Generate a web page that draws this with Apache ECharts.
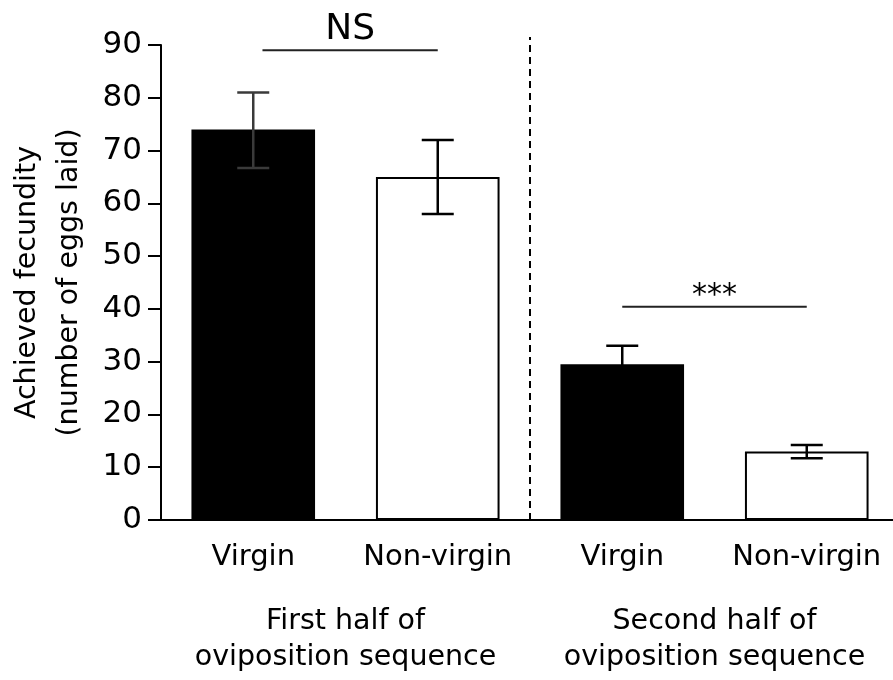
<!DOCTYPE html>
<html><head><meta charset="utf-8">
<script src="https://cdn.jsdelivr.net/npm/echarts@6/dist/echarts.min.js"></script>
<style>html,body{margin:0;padding:0;background:#fff}#c{width:893px;height:680px}</style>
</head><body><div id="c"></div>
<script>
const categories = ['Virgin', 'Non-virgin', 'Virgin', 'Non-virgin'];
const groups = ['First half of\noviposition sequence', 'Second half of\noviposition sequence'];
const means = [74, 65, 29.5, 13];
const errLow = [66.7, 58, 26, 11.7];
const errHigh = [81, 72, 33, 14.2];
const barColors = ['#000000', '#ffffff', '#000000', '#ffffff'];
const errColors = ['#3a3a3a', '#000000', '#000000', '#000000'];
// significance brackets: [startCat, endCat, yValue, label]
const brackets = [[0.05, 1.0, 89, 'NS'], [2.0, 3.0, 40.4, '***']];
const divider = [1.5, 0, 91.5];
const yTicks = { min: 0, max: 90, interval: 10 };

const FONT = 'DejaVu Sans, sans-serif';
const chart = echarts.init(document.getElementById('c'));

chart.setOption({
  animation: false,
  backgroundColor: '#fff',
  grid: { left: 161, top: 45, height: 475, width: 738, containLabel: false, outerBoundsMode: 'none' },
  xAxis: [{
    type: 'category', data: categories, boundaryGap: true,
    axisLine: { lineStyle: { color: '#000', width: 2 } },
    axisTick: { alignWithLabel: true, length: 13, lineStyle: { color: '#000', width: 2 } },
    axisLabel: { color: '#000', fontSize: 29, fontFamily: FONT, margin: 23, interval: 0, hideOverlap: false }
  }, {
    type: 'category', data: groups, position: 'bottom', boundaryGap: true,
    axisLine: { show: false }, axisTick: { show: false },
    axisLabel: { color: '#000', fontSize: 28.5, fontFamily: FONT, margin: 84, lineHeight: 36, interval: 0, hideOverlap: false }
  }],
  yAxis: {
    type: 'value', min: yTicks.min, max: yTicks.max, interval: yTicks.interval,
    name: 'Achieved fecundity\n(number of eggs laid)', nameLocation: 'middle', nameGap: 70,
    nameTextStyle: { color: '#000', fontSize: 28.5, fontFamily: FONT, lineHeight: 42 },
    axisLine: { show: true, lineStyle: { color: '#000', width: 2 } },
    axisTick: { show: true, length: 13, lineStyle: { color: '#000', width: 2 } },
    axisLabel: { color: '#000', fontSize: 31, fontFamily: FONT, margin: 19 },
    splitLine: { show: false }
  },
  series: [{
    type: 'bar', barWidth: '67%',
    data: means.map((v, i) => ({ value: v, itemStyle: { color: barColors[i], borderColor: '#000', borderWidth: 2 } })),
    z: 2
  }, {
    type: 'custom', z: 5,
    data: means.map((v, i) => [i, errLow[i], errHigh[i]]),
    renderItem: function (params, api) {
      const i = api.value(0);
      const lo = api.coord([i, api.value(1)]);
      const hi = api.coord([i, api.value(2)]);
      const hw = 16;
      const style = { stroke: errColors[i], lineWidth: 2.5, fill: null };
      return { type: 'group', children: [
        { type: 'line', shape: { x1: lo[0], y1: lo[1], x2: hi[0], y2: hi[1] }, style },
        { type: 'line', shape: { x1: hi[0] - hw, y1: hi[1], x2: hi[0] + hw, y2: hi[1] }, style },
        { type: 'line', shape: { x1: lo[0] - hw, y1: lo[1], x2: lo[0] + hw, y2: lo[1] }, style }
      ]};
    }
  }, {
    type: 'custom', z: 5,
    data: brackets,
    renderItem: function (params, api) {
      const band = api.size([1, 0])[0];
      const a = api.coord([0, api.value(2)]);
      const x1 = a[0] + api.value(0) * band;
      const x2 = a[0] + api.value(1) * band;
      const lbl = brackets[params.dataIndex][3];
      const isNS = lbl === 'NS';
      return { type: 'group', children: [
        { type: 'line', shape: { x1, y1: a[1], x2, y2: a[1] }, style: { stroke: '#222', lineWidth: 2 } },
        { type: 'text', style: { text: lbl, x: (x1 + x2) / 2, y: a[1] - (isNS ? 3 : -4), align: 'center', verticalAlign: 'bottom',
          fill: '#000', fontSize: isNS ? 36 : 30, fontFamily: FONT } }
      ]};
    }
  }, {
    type: 'custom', z: 1,
    data: [divider],
    renderItem: function (params, api) {
      const band = api.size([1, 0])[0];
      const a = api.coord([0, api.value(1)]);
      const b = api.coord([0, api.value(2)]);
      const x = a[0] + api.value(0) * band;
      return { type: 'line', shape: { x1: x, y1: a[1], x2: x, y2: b[1] },
        style: { stroke: '#000', lineWidth: 2, lineDash: [7, 5] } };
    }
  }]
});
</script></body></html>
